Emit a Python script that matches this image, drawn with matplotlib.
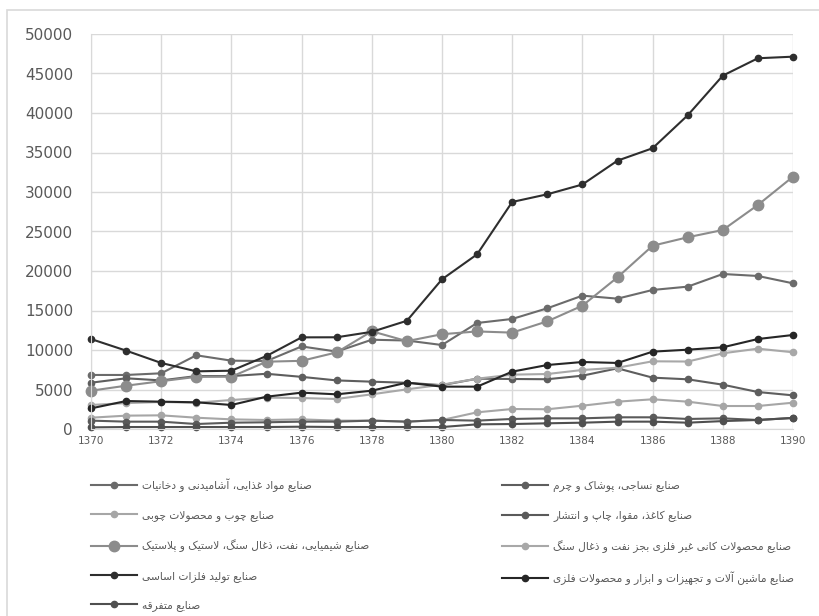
import matplotlib
matplotlib.use("Agg")
import matplotlib.pyplot as plt
from matplotlib.patches import Rectangle

# ---------------- data ----------------
years = list(range(1370, 1391))

food = [6840, 6840, 7050, 9330, 8650, 8600, 10450, 9800, 11300, 11200, 10630,
        13420, 13930, 15280, 16880, 16500, 17600, 18020, 19620, 19370, 18440]
textile = [5860, 6420, 6150, 6700, 6700, 6990, 6600, 6150, 5990, 5850, 5550,
           6370, 6330, 6300, 6750, 7680, 6500, 6290, 5610, 4680, 4260]
wood = [1430, 1690, 1730, 1430, 1220, 1140, 1220, 1060, 1060, 930, 1140,
        2110, 2530, 2500, 2950, 3460, 3760, 3460, 2910, 2910, 3330]
paper = [1060, 930, 930, 630, 800, 850, 930, 930, 1060, 930, 1140,
         1060, 1270, 1350, 1350, 1480, 1480, 1270, 1350, 1140, 1400]
chem = [4850, 5480, 6050, 6600, 6620, 8520, 8630, 9700, 12370, 11120, 12000,
        12350, 12200, 13630, 15610, 19200, 23200, 24270, 25190, 28360, 31940]
nonmetal = [3040, 3280, 3420, 3330, 3670, 3970, 3920, 3800, 4390, 5020, 5610,
            6370, 6880, 6960, 7470, 7760, 8570, 8540, 9580, 10170, 9710]
metals = [11390, 9920, 8360, 7300, 7380, 9240, 11600, 11610, 12300, 13700, 18950,
          22110, 28740, 29710, 30950, 33970, 35540, 39710, 44730, 46930, 47130]
machinery = [2610, 3540, 3460, 3380, 3040, 4090, 4600, 4390, 4850, 5870, 5360,
             5360, 7260, 8100, 8480, 8360, 9790, 10040, 10340, 11390, 11900]
misc = [210, 250, 250, 250, 250, 250, 290, 250, 250, 250, 250,
        590, 630, 720, 800, 930, 930, 800, 1000, 1140, 1400]

labels = [
    "صنایع مواد غذایی، آشامیدنی و دخانیات",
    "صنایع نساجی، پوشاک و چرم",
    "صنایع چوب و محصولات چوبی",
    "صنایع کاغذ، مقوا، چاپ و انتشار",
    "صنایع شیمیایی، نفت، ذغال سنگ، لاستیک و پلاستیک",
    "صنایع محصولات کانی غیر فلزی بجز نفت و ذغال سنگ",
    "صنایع تولید فلزات اساسی",
    "صنایع ماشین آلات و تجهیزات و ابزار و محصولات فلزی",
    "صنایع متفرقه",
]
series = [food, textile, wood, paper, chem, nonmetal, metals, machinery, misc]

y_ticks = [0, 5000, 10000, 15000, 20000, 25000, 30000, 35000, 40000, 45000, 50000]
x_ticks = list(range(1370, 1391, 2))

# ---------------- simple Persian shaping ----------------
FORMS = {
    # char: (isolated, final, initial, medial) ; None => right-joining only
    '\u0627': ('\uFE8D', '\uFE8E', None, None),
    '\u0622': ('\uFE81', '\uFE82', None, None),
    '\u062F': ('\uFEA9', '\uFEAA', None, None),
    '\u0630': ('\uFEAB', '\uFEAC', None, None),
    '\u0631': ('\uFEAD', '\uFEAE', None, None),
    '\u0632': ('\uFEAF', '\uFEB0', None, None),
    '\u0698': ('\uFB8A', '\uFB8B', None, None),
    '\u0648': ('\uFEED', '\uFEEE', None, None),
    '\u0628': ('\uFE8F', '\uFE90', '\uFE91', '\uFE92'),
    '\u067E': ('\uFB56', '\uFB57', '\uFB58', '\uFB59'),
    '\u062A': ('\uFE95', '\uFE96', '\uFE97', '\uFE98'),
    '\u062B': ('\uFE99', '\uFE9A', '\uFE9B', '\uFE9C'),
    '\u062C': ('\uFE9D', '\uFE9E', '\uFE9F', '\uFEA0'),
    '\u0686': ('\uFB7A', '\uFB7B', '\uFB7C', '\uFB7D'),
    '\u062D': ('\uFEA1', '\uFEA2', '\uFEA3', '\uFEA4'),
    '\u062E': ('\uFEA5', '\uFEA6', '\uFEA7', '\uFEA8'),
    '\u0633': ('\uFEB1', '\uFEB2', '\uFEB3', '\uFEB4'),
    '\u0634': ('\uFEB5', '\uFEB6', '\uFEB7', '\uFEB8'),
    '\u0635': ('\uFEB9', '\uFEBA', '\uFEBB', '\uFEBC'),
    '\u0636': ('\uFEBD', '\uFEBE', '\uFEBF', '\uFEC0'),
    '\u0637': ('\uFEC1', '\uFEC2', '\uFEC3', '\uFEC4'),
    '\u0638': ('\uFEC5', '\uFEC6', '\uFEC7', '\uFEC8'),
    '\u0639': ('\uFEC9', '\uFECA', '\uFECB', '\uFECC'),
    '\u063A': ('\uFECD', '\uFECE', '\uFECF', '\uFED0'),
    '\u0641': ('\uFED1', '\uFED2', '\uFED3', '\uFED4'),
    '\u0642': ('\uFED5', '\uFED6', '\uFED7', '\uFED8'),
    '\u06A9': ('\uFB8E', '\uFB8F', '\uFB90', '\uFB91'),
    '\u06AF': ('\uFB92', '\uFB93', '\uFB94', '\uFB95'),
    '\u0644': ('\uFEDD', '\uFEDE', '\uFEDF', '\uFEE0'),
    '\u0645': ('\uFEE1', '\uFEE2', '\uFEE3', '\uFEE4'),
    '\u0646': ('\uFEE5', '\uFEE6', '\uFEE7', '\uFEE8'),
    '\u0647': ('\uFEE9', '\uFEEA', '\uFEEB', '\uFEEC'),
    '\u06CC': ('\uFBFC', '\uFBFD', '\uFBFE', '\uFBFF'),
}


def shape_fa(text):
    chars = list(text)
    out = []
    n = len(chars)
    i = 0
    while i < n:
        c = chars[i]
        if c not in FORMS:
            out.append(c)
            i += 1
            continue
        prev = chars[i - 1] if i > 0 else None
        join_prev = prev in FORMS and FORMS[prev][2] is not None
        # lam-alef ligature
        if c == '\u0644' and i + 1 < n and chars[i + 1] in ('\u0627', '\u0622'):
            if chars[i + 1] == '\u0627':
                out.append('\uFEFC' if join_prev else '\uFEFB')
            else:
                out.append('\uFEF6' if join_prev else '\uFEF5')
            i += 2
            continue
        nxt = chars[i + 1] if i + 1 < n else None
        can_next = FORMS[c][2] is not None and nxt in FORMS
        iso, fin, ini, med = FORMS[c]
        if join_prev and can_next:
            out.append(med)
        elif join_prev:
            out.append(fin)
        elif can_next:
            out.append(ini)
        else:
            out.append(iso)
        i += 1
    return ''.join(reversed(out))


# ---------------- styling ----------------
colors = ['#6b6b6b', '#5e5e5e', '#a6a6a6', '#5a5a5a', '#8c8c8c',
          '#a8a8a8', '#2e2e2e', '#262626', '#4f4f4f']
msizes = [4.5, 4.5, 4.5, 4.5, 7.5, 4.5, 4.5, 4.5, 4.5]

W, H = 819, 616
fig = plt.figure(figsize=(W / 100, H / 100), dpi=100)
fig.patch.set_facecolor('white')

# outer chart border
fig.add_artist(Rectangle((7 / W, -0.05), 1.2, 1 - 10 / H + 0.05,
                         transform=fig.transFigure, fill=False,
                         edgecolor='#d9d9d9', linewidth=1.2))

ax = fig.add_axes([91 / W, (H - 429) / H, 702 / W, 395 / H])
ax.set_xlim(1370, 1390)
ax.set_ylim(0, 50000)
ax.set_yticks(y_ticks)
ax.set_xticks(x_ticks)
ax.set_yticklabels([str(v) for v in y_ticks])
ax.set_xticklabels([str(v) for v in x_ticks])
ax.grid(True, color='#d9d9d9', linewidth=1.0)
ax.set_axisbelow(True)
for s in ['top', 'right']:
    ax.spines[s].set_visible(False)
ax.spines['left'].set_color('#d9d9d9')
ax.spines['bottom'].set_color('#d9d9d9')
ax.tick_params(axis='both', length=0)
ax.tick_params(axis='y', labelsize=11, labelcolor='#595959', pad=13)
ax.tick_params(axis='x', labelsize=7.5, labelcolor='#595959', pad=5)

handles = []
for vals, col, ms in zip(series, colors, msizes):
    ln, = ax.plot(years, vals, color=col, linewidth=1.5, marker='o',
                  markersize=ms, markerfacecolor=col, markeredgecolor=col,
                  clip_on=False)
    handles.append(ln)

shaped = [shape_fa(t) for t in labels]

left_idx = [0, 2, 4, 6, 8]
right_idx = [1, 3, 5, 7]

common = dict(frameon=False, fontsize=7.7, handlelength=4.3, handletextpad=0.5,
              labelspacing=1.72, borderpad=0, borderaxespad=0,
              labelcolor='#595959', loc='upper left')
leg1 = fig.legend([handles[i] for i in left_idx], [shaped[i] for i in left_idx],
                  bbox_to_anchor=(91 / W, 1 - 478 / H), **common)
leg2 = fig.legend([handles[i] for i in right_idx], [shaped[i] for i in right_idx],
                  bbox_to_anchor=(502 / W, 1 - 481 / H), **common)

fig.savefig('out.png', dpi=100, facecolor='white')
